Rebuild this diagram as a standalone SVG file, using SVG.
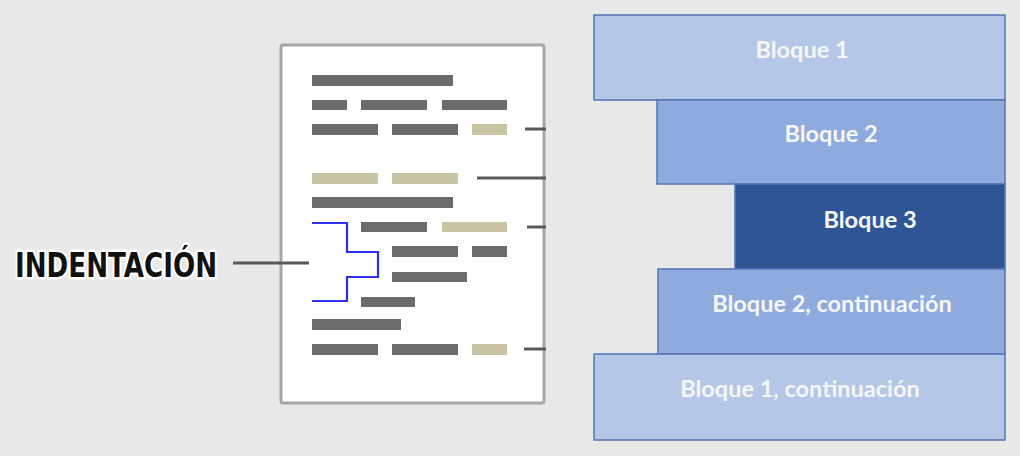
<svg xmlns="http://www.w3.org/2000/svg" width="1020" height="456" viewBox="0 0 1020 456">
<style>
.g{fill:#6b6b6b}
.t{fill:#c9c4a3}
.con{stroke:#595959;stroke-width:3;fill:none}
.blk{stroke:#5276b4;stroke-width:1.5}
.lbl{font-family:Lato,"Open Sans","Liberation Sans",sans-serif;font-weight:bold;font-size:23.5px;fill:#f6f6f6;text-anchor:middle}
</style>
<rect x="0" y="0" width="1020" height="456" fill="#e8e8e8"/>
<g id="document">
<rect x="281" y="45" width="263" height="358" fill="#ffffff" stroke="#a6a6a6" stroke-width="3" rx="2"/>
<rect class="g" x="312" y="75" width="141" height="11"/>
<rect class="g" x="312" y="100" width="35" height="10"/>
<rect class="g" x="361" y="100" width="66" height="10"/>
<rect class="g" x="442" y="100" width="65" height="10"/>
<rect class="g" x="312" y="124" width="66" height="11"/>
<rect class="g" x="392" y="124" width="66" height="11"/>
<rect class="t" x="472" y="124" width="35" height="11"/>
<rect class="t" x="312" y="173" width="66" height="11"/>
<rect class="t" x="392" y="173" width="66" height="11"/>
<rect class="g" x="312" y="197" width="141" height="11"/>
<rect class="g" x="361" y="222" width="66" height="10"/>
<rect class="t" x="442" y="222" width="65" height="10"/>
<rect class="g" x="392" y="246" width="66" height="11"/>
<rect class="g" x="472" y="246" width="35" height="11"/>
<rect class="g" x="392" y="272" width="75" height="10"/>
<rect class="g" x="361" y="297" width="54" height="10"/>
<rect class="g" x="312" y="319" width="89" height="11"/>
<rect class="g" x="312" y="344" width="66" height="11"/>
<rect class="g" x="392" y="344" width="66" height="11"/>
<rect class="t" x="472" y="344" width="35" height="11"/>
<path d="M312 223 H347 V252 H378 V277 H347 V301 H312" fill="none" stroke="#2f2ff0" stroke-width="2.2"/>
</g>
<g id="label-indentacion">
<text x="15" y="277" font-family="'DejaVu Sans','Liberation Sans',sans-serif" font-weight="900" font-size="34" textLength="202" lengthAdjust="spacingAndGlyphs" fill="#111111" stroke="#ffffff" stroke-width="5" paint-order="stroke" stroke-linejoin="round">INDENTACIÓN</text>
</g>
<g id="connectors">
<line class="con" x1="525" y1="129" x2="546" y2="129"/>
<line class="con" x1="477" y1="178" x2="546" y2="178"/>
<line class="con" x1="527" y1="227" x2="546" y2="227"/>
<line class="con" x1="524" y1="349" x2="546" y2="349"/>
<line class="con" x1="233" y1="263" x2="309" y2="263"/>
</g>
<g id="bloque1">
<rect class="blk" x="594" y="15" width="411" height="85" fill="#b4c7e7"/>
<text class="lbl" x="802" y="58">Bloque 1</text>
</g>
<g id="bloque2">
<rect class="blk" x="657" y="100" width="348" height="84" fill="#8faadc"/>
<text class="lbl" x="831" y="142">Bloque 2</text>
</g>
<g id="bloque3">
<rect class="blk" x="735" y="184" width="270" height="85" fill="#2f5597"/>
<text class="lbl" x="870" y="228">Bloque 3</text>
</g>
<g id="bloque2cont">
<rect class="blk" x="658" y="269" width="347" height="85" fill="#8faadc"/>
<text class="lbl" x="832" y="312">Bloque 2, continuación</text>
</g>
<g id="bloque1cont">
<rect class="blk" x="594" y="354" width="411" height="86" fill="#b4c7e7"/>
<text class="lbl" x="800" y="397">Bloque 1, continuación</text>
</g>
</svg>
